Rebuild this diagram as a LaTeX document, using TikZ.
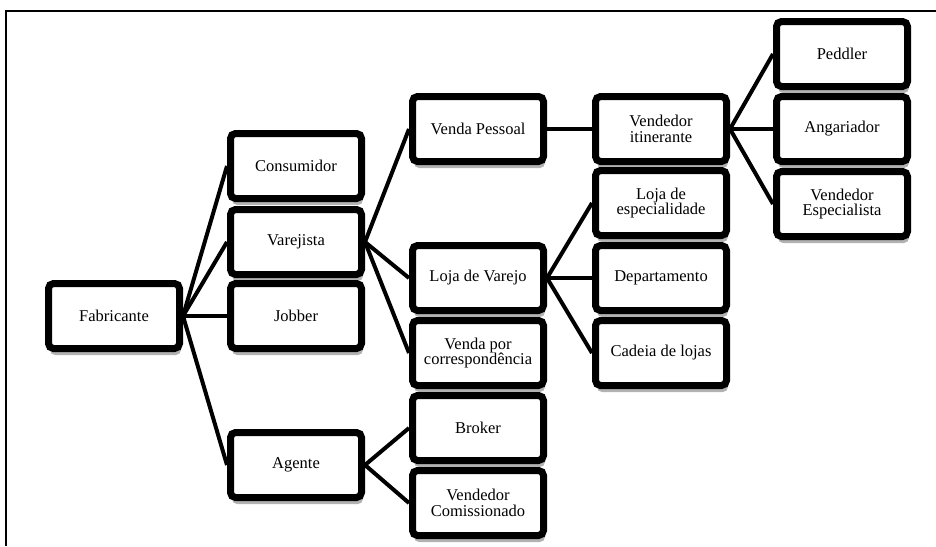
\documentclass[tikz,border=0pt]{standalone}
\usepackage{fontspec}
\setmainfont{Liberation Serif}
\usepackage{tikz}
\usetikzlibrary{shadows}

\begin{document}
\begin{tikzpicture}[x=1pt,y=1pt]
\tikzstyle{canal}=[draw=black, line width=7pt, rounded corners=5pt, fill=white,
  minimum width=131pt, minimum height=65pt, inner sep=0pt, align=center,
  font=\fontsize{16.5}{15.5}\selectfont,
  drop shadow={shadow xshift=1.5pt, shadow yshift=-6.5pt, opacity=.3, fill=black}]
\tikzstyle{ligacao}=[black, line width=4pt]
\useasboundingbox (0,0) rectangle (936,-546);
% moldura
\draw [black, line width=2pt] (6,-546) -- (6,-11) -- (936,-11);
% nivel 1
\node [canal] (fab) at (114,-316) {Fabricante};
% nivel 2
\node [canal] (cons) at (296,-166) {Consumidor};
\node [canal] (var) at (296,-242) {Varejista};
\node [canal] (job) at (296,-316) {Jobber};
\node [canal] (age) at (296,-465) {Agente};
% nivel 3
\node [canal] (vp) at (478,-129) {Venda Pessoal};
\node [canal] (ljv) at (478,-278) {Loja de Varejo};
\node [canal] (vpc) at (478,-353) {Venda por\\correspondência};
\node [canal] (bro) at (478,-428) {Broker};
\node [canal] (vcom) at (478,-503) {Vendedor\\Comissionado};
% nivel 4
\node [canal] (vit) at (661,-129) {Vendedor\\itinerante};
\node [canal] (lesp) at (661,-203) {Loja de\\especialidade};
\node [canal] (dep) at (661,-278) {Departamento};
\node [canal] (cad) at (661,-353) {Cadeia de lojas};
% nivel 5
\node [canal] (ped) at (842,-54) {Peddler};
\node [canal] (ang) at (842,-129) {Angariador};
\node [canal] (vesp) at (842,-204) {Vendedor\\Especialista};
% ligacoes
\draw [ligacao] (fab.east) -- (cons.west);
\draw [ligacao] (fab.east) -- (var.west);
\draw [ligacao] (fab.east) -- (job.west);
\draw [ligacao] (fab.east) -- (age.west);
\draw [ligacao] (var.east) -- (vp.west);
\draw [ligacao] (var.east) -- (ljv.west);
\draw [ligacao] (var.east) -- (vpc.west);
\draw [ligacao] (vp.east) -- (vit.west);
\draw [ligacao] (ljv.east) -- (lesp.west);
\draw [ligacao] (ljv.east) -- (dep.west);
\draw [ligacao] (ljv.east) -- (cad.west);
\draw [ligacao] (vit.east) -- (ped.west);
\draw [ligacao] (vit.east) -- (ang.west);
\draw [ligacao] (vit.east) -- (vesp.west);
\draw [ligacao] (age.east) -- (bro.west);
\draw [ligacao] (age.east) -- (vcom.west);
\end{tikzpicture}
\end{document}
